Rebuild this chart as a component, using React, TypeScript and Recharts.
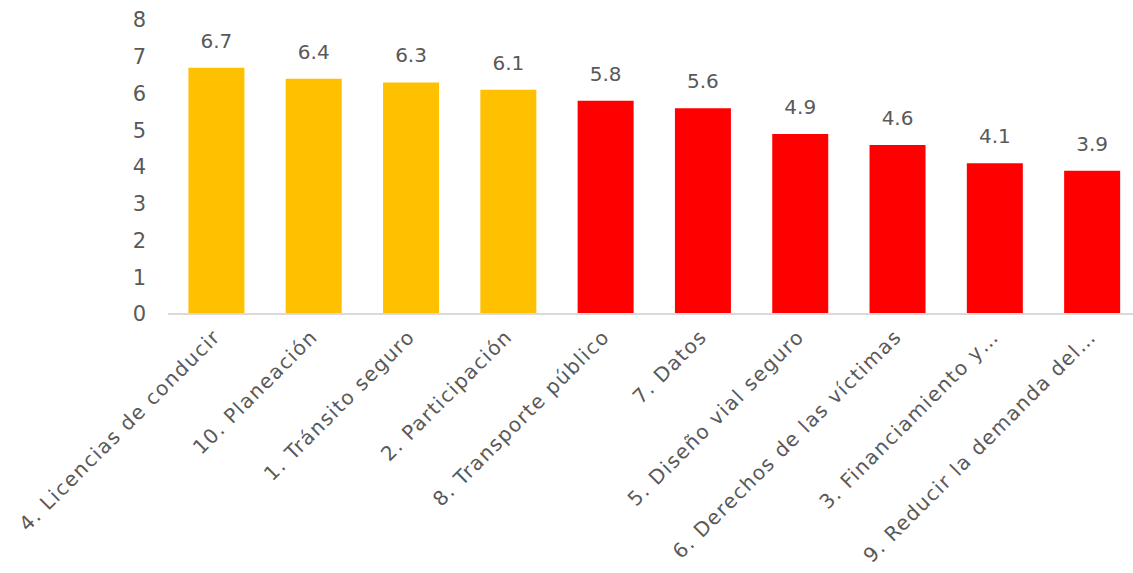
import React from 'react'
import { BarChart, Bar, XAxis, YAxis, Cell, LabelList } from 'recharts'

const categories = [
  '4. Licencias de conducir',
  '10. Planeación',
  '1. Tránsito seguro',
  '2. Participación',
  '8. Transporte público',
  '7. Datos',
  '5. Diseño vial seguro',
  '6. Derechos de las víctimas',
  '3. Financiamiento y…',
  '9. Reducir la demanda del…',
]
const scores = [6.7, 6.4, 6.3, 6.1, 5.8, 5.6, 4.9, 4.6, 4.1, 3.9]
const barColors = ['#FFC000', '#FFC000', '#FFC000', '#FFC000', '#FF0000', '#FF0000', '#FF0000', '#FF0000', '#FF0000', '#FF0000']
const yTicks = [0, 1, 2, 3, 4, 5, 6, 7, 8]

const data = categories.map((name, i) => ({ name, value: scores[i], color: barColors[i] }))

const FONT = '"DejaVu Sans", sans-serif'
const TEXT = '#595959'

function CategoryTick({ x, y, payload }: any) {
  return (
    <g transform={`translate(${x + 5},${y + 22}) rotate(-45)`}>
      <text x={0} y={0} textAnchor="end" fill={TEXT} fontSize={20} fontFamily={FONT} letterSpacing={1.4}>
        {payload.value}
      </text>
    </g>
  )
}

export default function App() {
  return (
    <div style={{ position: 'absolute', left: 0, top: 0, background: '#fff', overflow: 'hidden', width: 1133, height: 573 }}>
      <BarChart
        width={1141}
        height={573}
        data={data}
        margin={{ top: 20, right: 0, bottom: 19, left: 0 }}
        barCategoryGap="21%"
      >
        <XAxis
          dataKey="name"
          interval={0}
          tickSize={0}
          tickLine={false}
          axisLine={{ stroke: '#D9D9D9', strokeWidth: 2 }}
          tick={<CategoryTick />}
          height={240}
        />
        <YAxis
          domain={[0, 8]}
          ticks={yTicks}
          width={168}
          tickSize={0}
          tickMargin={22}
          axisLine={false}
          tickLine={false}
          tick={{ fill: TEXT, fontSize: 21, fontFamily: FONT }}
        />
        <Bar dataKey="value" isAnimationActive={false}>
          {data.map((entry, index) => (
            <Cell key={`cell-${index}`} fill={entry.color} />
          ))}
          <LabelList dataKey="value" position="top" offset={20} fill={TEXT} fontSize={20} fontFamily={FONT} />
        </Bar>
      </BarChart>
    </div>
  )
}
